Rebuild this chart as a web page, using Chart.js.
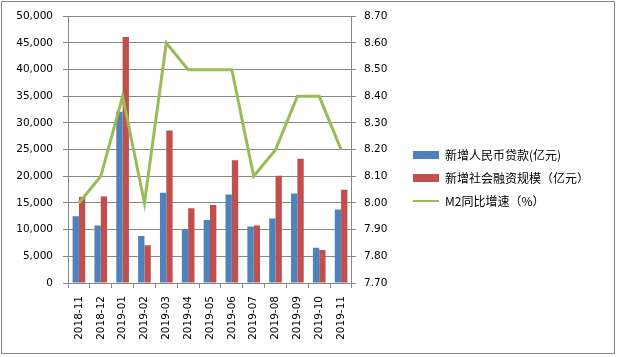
<!DOCTYPE html>
<html><head><meta charset="utf-8">
<script src="https://cdn.jsdelivr.net/npm/chart.js@4/dist/chart.umd.min.js"></script>
<style>
html,body{margin:0;padding:0;background:#fff;}
#wrap{position:absolute;left:0;top:0;width:617px;height:357px;}
</style></head>
<body><div id="wrap"><canvas id="c" width="617" height="357"></canvas></div>
<script>
const categories = ['2018-11','2018-12','2019-01','2019-02','2019-03','2019-04','2019-05','2019-06','2019-07','2019-08','2019-09','2019-10','2019-11'];
const newLoans = [12500,10800,32100,8800,16900,10100,11800,16600,10600,12100,16800,6600,13800];
const newTSF = [16100,16200,46100,7100,28600,14000,14600,23000,10800,20100,23300,6200,17500];
const m2Growth = [8.0,8.1,8.4,8.0,8.6,8.5,8.5,8.5,8.1,8.2,8.4,8.4,8.2];
const leftTicks = [0,5000,10000,15000,20000,25000,30000,35000,40000,45000,50000];
const rightTicks = [7.70,7.80,7.90,8.00,8.10,8.20,8.30,8.40,8.50,8.60,8.70];
const seriesNames = ['新增人民币贷款(亿元)','新增社会融资规模（亿元）','M2同比增速（%）'];

const gridColor = '#878787';
const tickFont = {family:'DejaVu Sans', size:10.5};

const borderPlugin = {
  id:'outerBorder',
  afterDraw(chart){
    const ctx = chart.ctx;
    ctx.save();
    ctx.strokeStyle = '#878787';
    ctx.lineWidth = 1;
    ctx.strokeRect(1.5,1.5,613,352);
    ctx.restore();
  }
};

new Chart(document.getElementById('c'), {
  data:{
    labels: categories,
    datasets:[
      {type:'bar', label:seriesNames[0], data:newLoans, backgroundColor:'#4F81BD', yAxisID:'y', order:1, categoryPercentage:0.58, barPercentage:1.0},
      {type:'bar', label:seriesNames[1], data:newTSF, backgroundColor:'#C0504D', yAxisID:'y', order:1, categoryPercentage:0.58, barPercentage:1.0},
      {type:'line', label:seriesNames[2], data:m2Growth, borderColor:'#9BBB59', backgroundColor:'#9BBB59', borderWidth:3, pointRadius:0, tension:0, yAxisID:'y1', order:0}
    ]
  },
  options:{
    responsive:false,
    animation:false,
    devicePixelRatio:1,
    layout:{padding:{top:15,left:0,right:18,bottom:16}},
    plugins:{
      tooltip:{enabled:false},
      legend:{
        position:'right',
        align:'center',
        maxWidth:230,
        labels:{
          font:{family:'Noto Sans CJK SC', size:12},
          color:'#000',
          usePointStyle:true,
          pointStyleWidth:26,
          boxHeight:8,
          padding:11,
          sort:(a,b)=>a.datasetIndex-b.datasetIndex,
          generateLabels(chart){
            return chart.data.datasets.map((ds,i)=>({
              text: ds.label,
              fillStyle: ds.backgroundColor,
              strokeStyle: ds.type==='line' ? ds.borderColor : ds.backgroundColor,
              lineWidth: ds.type==='line' ? 2 : 0,
              pointStyle: ds.type==='line' ? 'line' : 'rect',
              hidden:false,
              datasetIndex:i,
              fontColor:'#000'
            }));
          }
        }
      }
    },
    scales:{
      x:{
        type:'category',
        offset:true,
        grid:{display:true, drawOnChartArea:false, drawTicks:true, tickLength:5, color:gridColor, offset:true},
        border:{display:true, color:gridColor},
        ticks:{font:tickFont, color:'#000', minRotation:90, maxRotation:90, padding:8, autoSkip:false},
        afterFit(s){ s.height = 58; }
      },
      y:{
        position:'left',
        min:0, max:50000,
        afterBuildTicks(s){ s.ticks = leftTicks.map(v=>({value:v})); },
        grid:{color:gridColor, tickLength:5, drawTicks:true},
        border:{display:true, color:gridColor},
        ticks:{font:tickFont, color:'#000', padding:10, callback:v=>v.toLocaleString('en-US')},
        afterFit(s){ s.width = 68; }
      },
      y1:{
        position:'right',
        min:7.7, max:8.7,
        afterBuildTicks(s){ s.ticks = rightTicks.map(v=>({value:v})); },
        grid:{drawOnChartArea:false, color:gridColor, tickLength:4, drawTicks:true},
        border:{display:true, color:gridColor},
        ticks:{font:tickFont, color:'#000', padding:8, callback:v=>Number(v).toFixed(2)},
        afterFit(s){ s.width = 50; }
      }
    }
  },
  plugins:[borderPlugin]
});
</script>
</body></html>
